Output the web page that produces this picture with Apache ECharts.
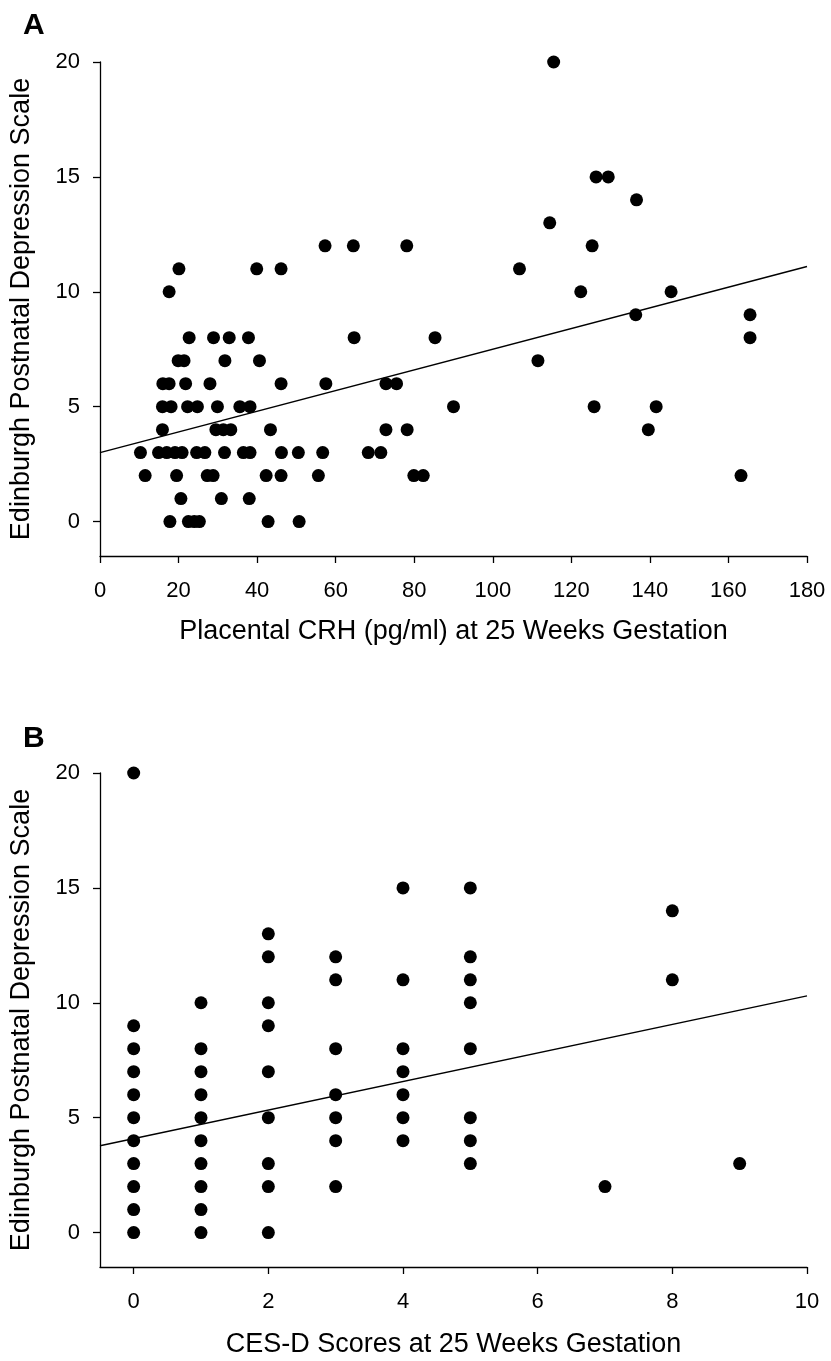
<!DOCTYPE html>
<html>
<head>
<meta charset="utf-8">
<script src="https://cdn.jsdelivr.net/npm/echarts@6/dist/echarts.min.js"></script>
<style>
html,body{margin:0;padding:0;background:#fff;}
#chart{width:831px;height:1361px;}
</style>
</head>
<body>
<div id="chart"></div>
<script>
// Panel A: Placental CRH (pg/ml) vs EPDS
var crhA = [115.5, 126.3, 129.4, 136.6, 114.5,
  57.3, 64.5, 78.1, 125.3,
  20.1, 39.9, 46.1, 106.8,
  17.6, 122.4, 145.4,
  136.4, 165.5,
  22.7, 28.9, 32.9, 37.8, 64.7, 85.3, 165.5,
  19.9, 21.4, 31.8, 40.6, 111.5,
  16.0, 17.6, 21.8, 28.0, 46.1, 57.5, 72.8, 75.5,
  15.9, 18.1, 22.3, 24.8, 29.9, 35.6, 38.2, 90.0, 125.8, 141.6,
  15.9, 29.5, 31.4, 33.3, 43.4, 72.8, 78.2, 139.6,
  10.3, 14.9, 17.0, 19.1, 20.9, 24.6, 26.7, 31.7, 36.5, 38.2, 46.2, 50.5, 56.7, 68.3, 71.5,
  11.5, 19.5, 27.3, 28.8, 42.3, 46.1, 55.6, 79.9, 82.3, 163.2,
  20.6, 30.9, 38.0,
  17.8, 22.5, 24.0, 25.3, 42.8, 50.7];
var epdsA = [20, 15, 15, 14, 13,
  12, 12, 12, 12,
  11, 11, 11, 11,
  10, 10, 10,
  9, 9,
  8, 8, 8, 8, 8, 8, 8,
  7, 7, 7, 7, 7,
  6, 6, 6, 6, 6, 6, 6, 6,
  5, 5, 5, 5, 5, 5, 5, 5, 5, 5,
  4, 4, 4, 4, 4, 4, 4, 4,
  3, 3, 3, 3, 3, 3, 3, 3, 3, 3, 3, 3, 3, 3, 3,
  2, 2, 2, 2, 2, 2, 2, 2, 2, 2,
  1, 1, 1,
  0, 0, 0, 0, 0, 0];
var fitAx = [0, 180];
var fitAy = [3.0, 11.1];

// Panel B: CES-D scores vs EPDS
var cesdB = [0,0,0,0,0,0,0,0,0,0,0,
  1,1,1,1,1,1,1,1,1,1,
  2,2,2,2,2,2,2,2,2,
  3,3,3,3,3,3,3,
  4,4,4,4,4,4,4,
  5,5,5,5,5,5,5,5,
  7, 8, 8, 9];
var epdsB = [0,1,2,3,4,5,6,7,8,9,20,
  0,1,2,3,4,5,6,7,8,10,
  0,2,3,5,7,9,10,12,13,
  2,4,5,6,8,11,12,
  4,5,6,7,8,11,15,
  3,4,5,8,10,11,12,15,
  2, 11, 14, 3];
var fitBx = [-0.5, 10];
var fitBy = [3.78, 10.3];

var yTicks = [0, 5, 10, 15, 20];
var xTicksA = [0, 20, 40, 60, 80, 100, 120, 140, 160, 180];
var xTicksB = [0, 2, 4, 6, 8, 10];

function pairs(xs, ys){ return xs.map(function(x,i){ return [x, ys[i]]; }); }

var FONT = "'Liberation Sans', Arial, sans-serif";
var axisLineStyle = {show:true, onZero:false, lineStyle:{color:'#000', width:1.3}};
function xAxis(grid, min, max, ticks, name, gap){
  return {
    type:'value', gridIndex:grid, min:min, max:max,
    name:name, nameLocation:'middle', nameGap:gap,
    nameTextStyle:{fontFamily:FONT, fontSize:27, color:'#000'},
    axisLine:axisLineStyle,
    axisTick:{show:true, length:7, inside:false, customValues:ticks, lineStyle:{color:'#000', width:1.3}},
    axisLabel:{show:true, customValues:ticks, margin:24, fontFamily:FONT, fontSize:22, color:'#000'},
    splitLine:{show:false}
  };
}
function yAxis(grid){
  return {
    type:'value', gridIndex:grid, min:-1.5, max:20,
    name:'Edinburgh Postnatal Depression Scale', nameLocation:'middle', nameGap:65,
    nameTextStyle:{fontFamily:FONT, fontSize:27, color:'#000'},
    axisLine:axisLineStyle,
    axisTick:{show:true, length:7, inside:false, customValues:yTicks, lineStyle:{color:'#000', width:1.3}},
    axisLabel:{show:true, customValues:yTicks, margin:20, fontFamily:FONT, fontSize:22, color:'#000'},
    splitLine:{show:false}
  };
}

var chart = echarts.init(document.getElementById('chart'), null, {renderer:'canvas'});
chart.setOption({
  backgroundColor:'#fff',
  animation:false,
  title:[
    {text:'A', left:18, top:6, textStyle:{fontFamily:FONT, fontSize:30, fontWeight:'bold', color:'#000'}},
    {text:'B', left:18, top:719, textStyle:{fontFamily:FONT, fontSize:30, fontWeight:'bold', color:'#000'}}
  ],
  grid:[
    {left:100, top:62, width:707, height:494},
    {left:100, top:773, width:707, height:494}
  ],
  xAxis:[
    xAxis(0, 0, 180, xTicksA, 'Placental CRH (pg/ml) at 25 Weeks Gestation', 62),
    xAxis(1, -0.5, 10, xTicksB, 'CES-D Scores at 25 Weeks Gestation', 64)
  ],
  yAxis:[yAxis(0), yAxis(1)],
  series:[
    {type:'scatter', xAxisIndex:0, yAxisIndex:0, symbol:'circle', symbolSize:13,
     itemStyle:{color:'#000', opacity:1}, data:pairs(crhA, epdsA)},
    {type:'line', xAxisIndex:0, yAxisIndex:0, showSymbol:false, symbol:'none',
     lineStyle:{color:'#000', width:1.5}, data:pairs(fitAx, fitAy)},
    {type:'scatter', xAxisIndex:1, yAxisIndex:1, symbol:'circle', symbolSize:13,
     itemStyle:{color:'#000', opacity:1}, data:pairs(cesdB, epdsB)},
    {type:'line', xAxisIndex:1, yAxisIndex:1, showSymbol:false, symbol:'none',
     lineStyle:{color:'#000', width:1.5}, data:pairs(fitBx, fitBy)}
  ]
});
</script>
</body>
</html>
